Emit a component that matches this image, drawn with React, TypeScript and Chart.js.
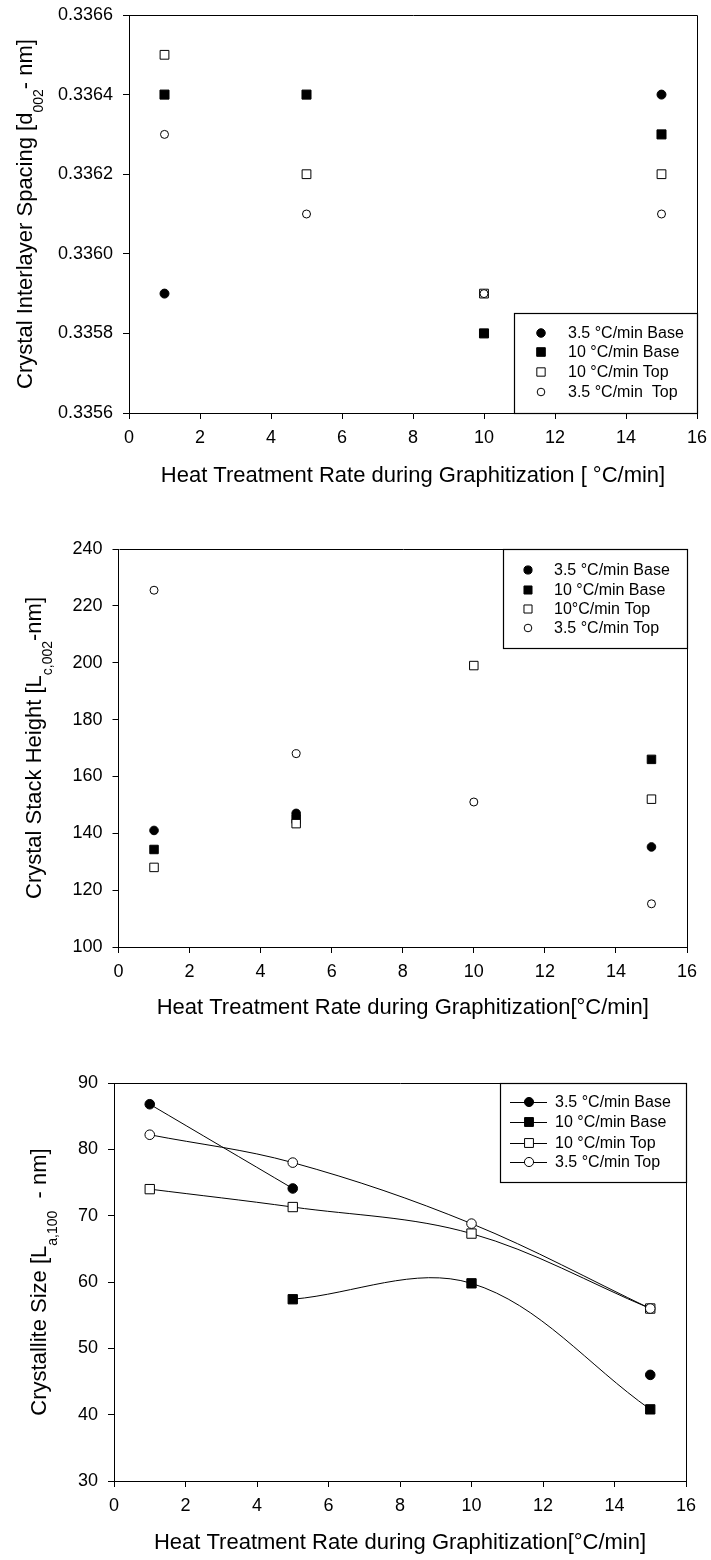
import React, { useEffect, useRef } from 'react';
import { Chart, registerables } from 'chart.js';

Chart.register(...registerables);

const FONT = "'Liberation Sans', Arial, Helvetica, sans-serif";

// ---------- shared data ----------
const rates = [1, 5, 10, 15];
const xTickValues = [0, 2, 4, 6, 8, 10, 12, 14, 16];

// ---------- chart 1: interlayer spacing d002 ----------
const d002Ticks = [0.3356, 0.3358, 0.336, 0.3362, 0.3364, 0.3366];
const d002Base35 = [0.3359, null, null, 0.3364];
const d002Base10 = [0.3364, 0.3364, 0.3358, 0.3363];
const d002Top10 = [0.3365, 0.3362, 0.3359, 0.3362];
const d002Top35 = [0.3363, 0.3361, 0.3359, 0.3361];
const d002Labels = ['3.5 °C/min Base', '10 °C/min Base', '10 °C/min Top', '3.5 °C/min  Top'];

// ---------- chart 2: stack height Lc,002 ----------
const lcTicks = [100, 120, 140, 160, 180, 200, 220, 240];
const lcBase35 = [141, 147, null, 135.2];
const lcBase10 = [134.3, 145, null, 166];
const lcTop10 = [128, 143.4, 199, 152];
const lcTop35 = [225.5, 168, 151, 115.2];
const lcLabels = ['3.5 °C/min Base', '10 °C/min Base', '10°C/min Top', '3.5 °C/min Top'];

// ---------- chart 3: crystallite size La,100 ----------
const laTicks = [30, 40, 50, 60, 70, 80, 90];
const laBase35 = [86.8, 74.1, null, 46];
const laBase10 = [null, 57.4, 59.8, 40.8];
const laTop10 = [74, 71.3, 67.3, 56];
const laTop35 = [82.2, 78, 68.8, 56];
const laLabels = ['3.5 °C/min Base', '10 °C/min Base', '10 °C/min Top', '3.5 °C/min Top'];

type Part = { t: string; sub?: boolean };

interface Spec {
  pageTop: number;
  height: number;
  area: { left: number; top: number; right: number; bottom: number };
  yMin: number;
  yMax: number;
  yTicks: number[];
  yDigits: number;
  series: (number | null)[][];
  labels: string[];
  lines: boolean;
  radii: number[];
  xTitle: string;
  xTitleY: number;
  yTitle: Part[];
  yTitleX: number;
  subShift: number;
  legend: { x1: number; y1: number; x2: number; y2: number; rows: number[]; markerX: number; textX: number; lineX1?: number; lineX2?: number };
}

const W = 711;

const specs: Spec[] = [
  {
    pageTop: 0,
    height: 500,
    area: { left: 129, top: 15, right: 697, bottom: 413 },
    yMin: 0.3356,
    yMax: 0.3366,
    yTicks: d002Ticks,
    yDigits: 4,
    series: [d002Base35, d002Base10, d002Top10, d002Top35],
    labels: d002Labels,
    lines: false,
    radii: [4.5, 6.4, 6.2, 4],
    xTitle: 'Heat Treatment Rate during Graphitization [ °C/min]',
    xTitleY: 476,
    yTitle: [{ t: 'Crystal Interlayer Spacing [d' }, { t: '002', sub: true }, { t: '- nm]' }],
    yTitleX: 32,
    subShift: 11,
    legend: { x1: 514, y1: 313, x2: 697, y2: 413, rows: [333, 352, 372, 392], markerX: 541, textX: 568 },
  },
  {
    pageTop: 500,
    height: 530,
    area: { left: 118.5, top: 49, right: 687, bottom: 447 },
    yMin: 100,
    yMax: 240,
    yTicks: lcTicks,
    yDigits: 0,
    series: [lcBase35, lcBase10, lcTop10, lcTop35],
    labels: lcLabels,
    lines: false,
    radii: [4.3, 6, 6, 4],
    xTitle: 'Heat Treatment Rate during Graphitization[°C/min]',
    xTitleY: 508,
    yTitle: [{ t: 'Crystal Stack Height [L' }, { t: 'c,002', sub: true }, { t: '-nm]' }],
    yTitleX: 41,
    subShift: 11,
    legend: { x1: 503, y1: 49, x2: 687, y2: 148, rows: [70, 90, 109, 128], markerX: 528, textX: 554 },
  },
  {
    pageTop: 1030,
    height: 530,
    area: { left: 114, top: 53, right: 686, bottom: 451 },
    yMin: 30,
    yMax: 90,
    yTicks: laTicks,
    yDigits: 0,
    series: [laBase35, laBase10, laTop10, laTop35],
    labels: laLabels,
    lines: true,
    radii: [4.8, 6.6, 6.6, 4.8],
    xTitle: 'Heat Treatment Rate during Graphitization[°C/min]',
    xTitleY: 513,
    yTitle: [{ t: 'Crystallite Size [L' }, { t: 'a,100', sub: true }, { t: '  - nm]' }],
    yTitleX: 46,
    subShift: 11,
    legend: { x1: 500, y1: 53, x2: 686, y2: 152, rows: [72, 92, 113, 132], markerX: 529, textX: 555, lineX1: 510, lineX2: 547 },
  },
];

const markerStyles = [
  { style: 'circle', fill: '#000000' },
  { style: 'rect', fill: '#000000' },
  { style: 'rect', fill: '#ffffff' },
  { style: 'circle', fill: '#ffffff' },
];
const drawOrder = [3, 2, 1, 0];

function drawMarker(ctx: CanvasRenderingContext2D, style: string, fill: string, x: number, y: number, r: number) {
  ctx.beginPath();
  if (style === 'circle') {
    ctx.arc(x, y, r, 0, Math.PI * 2);
  } else {
    const s = Math.SQRT1_2 * r;
    ctx.rect(x - s, y - s, 2 * s, 2 * s);
  }
  ctx.fillStyle = fill;
  ctx.fill();
  ctx.lineWidth = 1;
  ctx.strokeStyle = '#000';
  ctx.stroke();
}

function makeDecor(spec: Spec) {
  return {
    id: 'decor',
    afterDraw(chart: any) {
      const ctx: CanvasRenderingContext2D = chart.ctx;
      const a = chart.chartArea;
      ctx.save();
      // frame top & right
      ctx.strokeStyle = '#000';
      ctx.lineWidth = 1;
      ctx.beginPath();
      ctx.moveTo(Math.round(a.left) + 0.5, Math.round(a.top) + 0.5);
      ctx.lineTo(Math.round(a.right) + 0.5, Math.round(a.top) + 0.5);
      ctx.lineTo(Math.round(a.right) + 0.5, Math.round(a.bottom) + 0.5);
      ctx.stroke();

      // x title
      ctx.fillStyle = '#000';
      ctx.font = `22px ${FONT}`;
      ctx.textAlign = 'center';
      ctx.textBaseline = 'middle';
      ctx.fillText(spec.xTitle, (a.left + a.right) / 2, spec.xTitleY);

      // y title with subscript
      ctx.save();
      ctx.translate(spec.yTitleX, (a.top + a.bottom) / 2);
      ctx.rotate(-Math.PI / 2);
      ctx.textAlign = 'left';
      ctx.textBaseline = 'alphabetic';
      const fontFor = (p: Part) => (p.sub ? `14px ${FONT}` : `22px ${FONT}`);
      let total = 0;
      for (const p of spec.yTitle) {
        ctx.font = fontFor(p);
        total += ctx.measureText(p.t).width;
      }
      let pos = -total / 2;
      for (const p of spec.yTitle) {
        ctx.font = fontFor(p);
        ctx.fillText(p.t, pos, p.sub ? spec.subShift : 0);
        pos += ctx.measureText(p.t).width;
      }
      ctx.restore();

      // legend
      const L = spec.legend;
      ctx.fillStyle = '#fff';
      ctx.fillRect(L.x1, L.y1, L.x2 - L.x1, L.y2 - L.y1);
      ctx.strokeStyle = '#000';
      ctx.lineWidth = 1.2;
      ctx.strokeRect(L.x1 + 0.5, L.y1 + 0.5, L.x2 - L.x1, L.y2 - L.y1);
      ctx.font = `16px ${FONT}`;
      ctx.textAlign = 'left';
      ctx.textBaseline = 'middle';
      spec.labels.forEach((lab, i) => {
        const y = L.rows[i];
        if (L.lineX1 !== undefined && L.lineX2 !== undefined) {
          ctx.beginPath();
          ctx.strokeStyle = '#000';
          ctx.lineWidth = 1;
          ctx.moveTo(L.lineX1, y + 0.5);
          ctx.lineTo(L.lineX2, y + 0.5);
          ctx.stroke();
        }
        const m = markerStyles[i];
        drawMarker(ctx, m.style, m.fill, L.markerX, y, spec.radii[i] * 0.95);
        ctx.fillStyle = '#000';
        ctx.fillText(lab, L.textX, y + 1);
      });
      ctx.restore();
    },
  };
}

function buildConfig(spec: Spec): any {
  const datasets = spec.series.map((vals, i) => {
    const m = markerStyles[i];
    return {
      label: spec.labels[i],
      data: rates.map((x, j) => ({ x, y: vals[j] })),
      showLine: spec.lines,
      borderColor: '#000',
      borderWidth: 1,
      tension: spec.lines ? 0.35 : 0,
      spanGaps: false,
      pointStyle: m.style,
      pointRadius: spec.radii[i],
      pointHoverRadius: spec.radii[i],
      pointBackgroundColor: m.fill,
      pointBorderColor: '#000',
      pointBorderWidth: 1,
      order: drawOrder[i],
    };
  });
  const tickFont = { size: 18, family: FONT };
  const gridCfg = { display: true, drawOnChartArea: false, drawTicks: true, tickLength: 6, color: '#000', lineWidth: 1 };
  return {
    type: 'scatter',
    data: { datasets },
    options: {
      animation: false,
      responsive: false,
      events: [],
      layout: { padding: { left: 0, top: spec.area.top, right: W - spec.area.right, bottom: 0 } },
      plugins: { legend: { display: false }, tooltip: { enabled: false } },
      scales: {
        x: {
          type: 'linear',
          min: 0,
          max: 16,
          grid: gridCfg,
          border: { display: true, color: '#000', width: 1 },
          ticks: { font: tickFont, color: '#000', padding: 8, maxRotation: 0, callback: (v: number) => String(v) },
          afterBuildTicks: (s: any) => {
            s.ticks = xTickValues.map((v) => ({ value: v }));
          },
          afterFit: (s: any) => {
            s.height = spec.height - spec.area.bottom;
            s.paddingLeft = 0;
            s.paddingRight = 0;
          },
        },
        y: {
          type: 'linear',
          min: spec.yMin,
          max: spec.yMax,
          grid: gridCfg,
          border: { display: true, color: '#000', width: 1 },
          ticks: { font: tickFont, color: '#000', padding: 10, callback: (v: number) => Number(v).toFixed(spec.yDigits) },
          afterBuildTicks: (s: any) => {
            s.ticks = spec.yTicks.map((v) => ({ value: v }));
          },
          afterFit: (s: any) => {
            s.width = spec.area.left;
            s.paddingTop = 0;
            s.paddingBottom = 0;
          },
        },
      },
    },
    plugins: [makeDecor(spec)],
  };
}

function ChartPanel({ spec }: { spec: Spec }) {
  const ref = useRef<HTMLCanvasElement | null>(null);
  useEffect(() => {
    if (!ref.current) return;
    const chart = new Chart(ref.current, buildConfig(spec));
    return () => chart.destroy();
  }, [spec]);
  return (
    <canvas
      ref={ref}
      width={W}
      height={spec.height}
      style={{ position: 'absolute', left: 0, top: spec.pageTop, width: W, height: spec.height }}
    />
  );
}

export default function App() {
  return (
    <div style={{ position: 'absolute', left: 0, top: 0, width: W, height: 1560, background: '#fff', overflow: 'hidden' }}>
      {specs.map((s, i) => (
        <ChartPanel key={i} spec={s} />
      ))}
    </div>
  );
}
